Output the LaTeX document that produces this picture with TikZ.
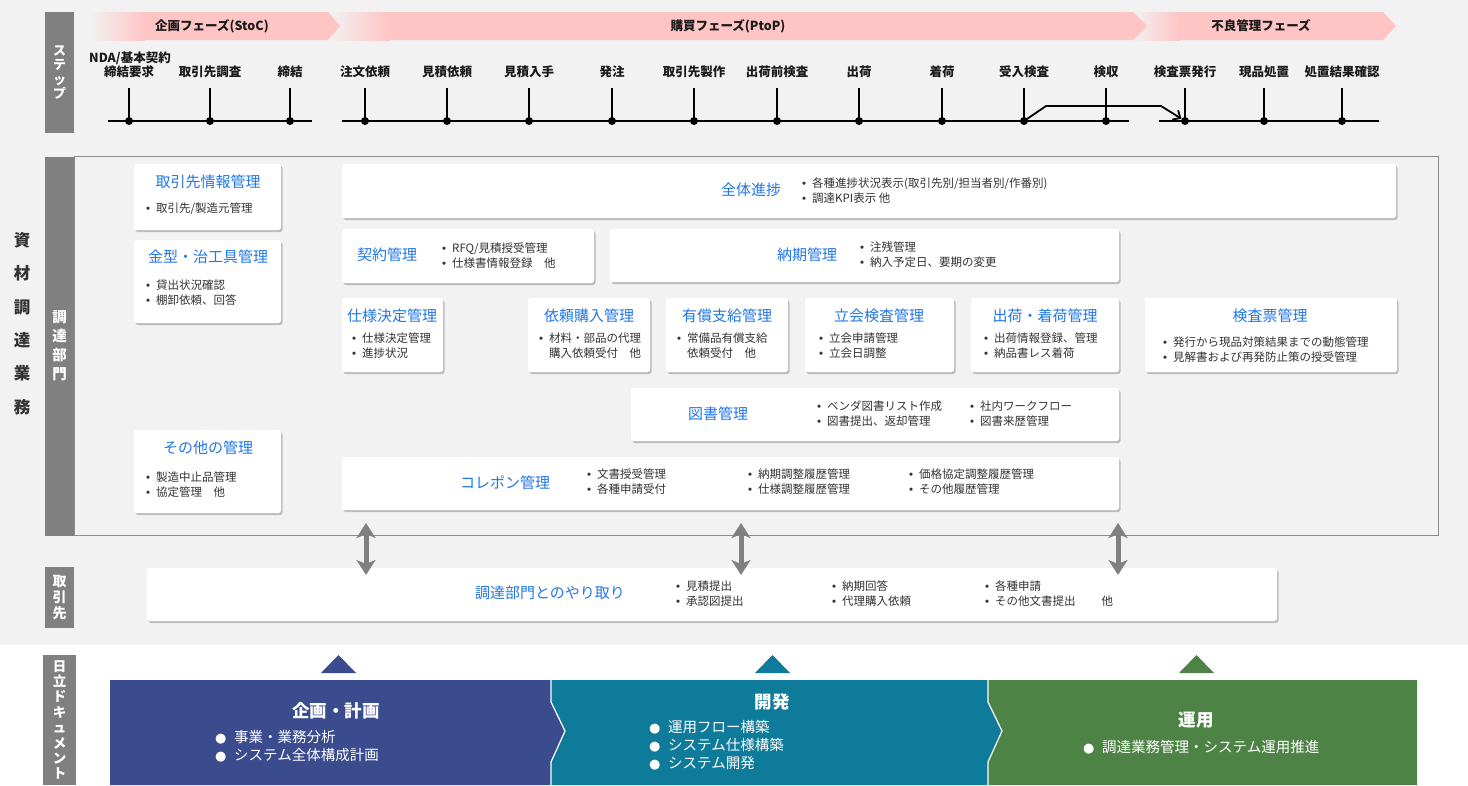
\documentclass[tikz,border=0pt]{standalone}
\usepackage{fontspec}
\setmainfont{Noto Sans CJK JP}
\newfontfamily\latinf{Liberation Sans}
\newfontfamily\djv{DejaVu Sans}
\usetikzlibrary{shadows,arrows.meta}
\definecolor{bgg}{HTML}{F2F2F2}
\definecolor{barg}{HTML}{808080}
\definecolor{framec}{HTML}{8C8C8C}
\definecolor{ttlc}{HTML}{2277E6}
\definecolor{txtc}{HTML}{333333}
\definecolor{stepc}{HTML}{1A1A1A}
\definecolor{pinkc}{HTML}{FFC4C4}
\definecolor{navyc}{HTML}{3A4B8E}
\definecolor{tealc}{HTML}{0F7B9A}
\definecolor{greenc}{HTML}{4E8346}
\newcommand\bl{\makebox[10pt][l]{{\latinf •}}}
\newcommand\nobl{\makebox[10pt][l]{}}
\newcommand\bbl{\makebox[19pt][l]{{\djv\fontsize{13}{12}\selectfont ●}}}
\newcommand\cardbox[5]{\node[card,minimum width={(#4-#2)*1pt},minimum height={(#5-#3)*1pt}] (#1) at ({(#2+#4)/2},{(#3+#5)/2}) {};}
\tikzset{
  card/.style={fill=white,rounded corners=2.5pt,inner sep=0pt,
    drop shadow={shadow xshift=1.5pt,shadow yshift=-2pt,fill=black,opacity=.22}},
  ttl/.style={font=\fontsize{15}{18}\selectfont,text=ttlc,inner sep=0pt},
  bul/.style={font=\fontsize{11.5}{15}\selectfont,text=txtc,align=left,inner sep=0pt,anchor=west},
  steplab/.style={font=\bfseries\fontsize{12.5}{14}\selectfont,text=stepc,inner sep=0pt},
  phase/.style={font=\bfseries\fontsize{12.5}{14}\selectfont,text=stepc,inner sep=0pt},
  dotn/.style={circle,fill=black,minimum size=8pt,inner sep=0pt},
  tickln/.style={line width=1.8pt},
  baseln/.style={line width=2.4pt},
  vbar/.style={fill=barg,text=white,align=center,inner sep=0pt},
  dblarrow/.style={line width=5pt,draw=barg,
    {Stealth[width=19pt,length=15pt,inset=4pt]}-{Stealth[width=19pt,length=15pt,inset=4pt]}},
  wtitle/.style={text=white,font=\bfseries\fontsize{17.5}{20}\selectfont,inner sep=0pt},
  wbul/.style={text=white,font=\fontsize{14.5}{18}\selectfont,align=left,inner sep=0pt,anchor=west},
}
\begin{document}
\begin{tikzpicture}[x=1pt,y=-1pt]
\useasboundingbox (0,0) rectangle (1468,785);
\fill[bgg] (0,0) rectangle (1468,645);
\fill[white] (0,645) rectangle (1468,785);

% phase bands
\shade[left color=bgg,right color=pinkc] (1133,12) rectangle (1180,40);
\fill[pinkc] (1179.5,12) -- (1383,12) -- (1396,26) -- (1383,40) -- (1179.5,40) -- cycle;
\shade[left color=bgg,right color=pinkc] (328,12) rectangle (390,40);
\fill[pinkc] (389.5,12) -- (1133,12) -- (1147,26) -- (1133,40) -- (389.5,40) -- cycle;
\shade[left color=bgg,right color=pinkc] (90,12) rectangle (145,40);
\fill[pinkc] (144.5,12) -- (328,12) -- (340,26) -- (328,40) -- (144.5,40) -- cycle;
\node[phase] (ph1) at (212,26) {企画フェーズ(StoC)};
\node[phase] (ph2) at (728,26) {購買フェーズ(PtoP)};
\node[phase] (ph3) at (1261,26) {不良管理フェーズ};

% left bars
\node[vbar,minimum width=29pt,minimum height=121pt,font=\bfseries\fontsize{13}{14.5}\selectfont] (vs) at (59.5,72.5) {ス\\テ\\ッ\\プ};
\draw[framec,line width=1pt] (74,156.5) rectangle (1438,535.5);
\node[vbar,minimum width=29pt,minimum height=379pt,font=\bfseries\fontsize{14.5}{19}\selectfont] (vc) at (59.5,346) {調\\達\\部\\門};
\node[vbar,minimum width=29pt,minimum height=61pt,font=\bfseries\fontsize{14}{16}\selectfont] (vt) at (59.5,597.5) {取\\引\\先};
\node[vbar,minimum width=33pt,minimum height=130pt,font=\bfseries\fontsize{13.5}{15.4}\selectfont] (vh) at (59.5,720) {日\\立\\ド\\キ\\ュ\\メ\\ン\\ト};
\node[text=txtc,align=center,inner sep=0pt,font=\bfseries\fontsize{16.5}{33.4}\selectfont] (vm) at (22,323.5) {資\\材\\調\\達\\業\\務};

% step row
\node[steplab] (nda) at (130,58) {NDA/基本契約};
\foreach \x/\t [count=\i] in {129/締結要求,210/取引先調査,290/締結,365/注文依頼,447/見積依頼,529/見積入手,612/発注,694/取引先製作,777/出荷前検査,859/出荷,942/着荷,1024/受入検査,1106/検収,1185/検査票発行,1264/現品処置,1342/処置結果確認}{
  \node[steplab] (lab\i) at (\x,72) {\t};
  \coordinate (tk\i) at (\x,88);
  \node[dotn] (dt\i) at (\x,121) {};
  \draw[tickln] (tk\i) -- (dt\i.center);
}
\coordinate (la1) at (108,121); \coordinate (lb1) at (312,121);
\coordinate (la2) at (342,121); \coordinate (lb2) at (1129,121);
\coordinate (la3) at (1159,121); \coordinate (lb3) at (1379,121);
\draw[baseln] (la1) -- (lb1);
\draw[baseln] (la2) -- (lb2);
\draw[baseln] (la3) -- (lb3);
\coordinate (ar1) at (1046,106); \coordinate (ar2) at (1161,106);
\draw[line width=1.8pt,-{Straight Barb[length=6pt,width=11pt]}] (dt12.center) -- (ar1) -- (ar2) -- (dt14);

% cards
\cardbox{c1}{134}{164}{281}{230}
\node[ttl] (c1t) at (208,182) {取引先情報管理};
\node[bul] (c1b) at (146,209) {\bl 取引先/製造元管理};

\cardbox{c2}{134}{240}{281}{323}
\node[ttl] (c2t) at (208,257) {金型・治工具管理};
\node[bul] (c2b) at (146,292.5) {\bl 貸出状況確認\\\bl 棚卸依頼、回答};

\cardbox{c3}{134}{430}{281}{513}
\node[ttl] (c3t) at (208,448) {その他の管理};
\node[bul] (c3b) at (146,484.5) {\bl 製造中止品管理\\\bl 協定管理　他};

\cardbox{c4}{342}{164}{1396}{218}
\node[ttl] (c4t) at (751,190) {全体進捗};
\node[bul] (c4b) at (802,191) {\bl 各種進捗状況表示(取引先別/担当者別/作番別)\\\bl 調達KPI表示 他};

\cardbox{c5}{342}{229}{594}{283}
\node[ttl] (c5t) at (387,255) {契約管理};
\node[bul] (c5b) at (442,256) {\bl RFQ/見積授受管理\\\bl 仕様書情報登録　他};

\cardbox{c6}{610}{229}{1119}{282}
\node[ttl] (c6t) at (807,255) {納期管理};
\node[bul] (c6b) at (860,255) {\bl 注残管理\\\bl 納入予定日、要期の変更};

\cardbox{c7}{342}{298}{443}{372}
\node[ttl] (c7t) at (392,316) {仕様決定管理};
\node[bul] (c7b) at (352,346) {\bl 仕様決定管理\\\bl 進捗状況};

\cardbox{c8}{528}{298}{650}{372}
\node[ttl] (c8t) at (589,316) {依頼購入管理};
\node[bul] (c8b) at (539,346) {\bl 材料・部品の代理\\\nobl 購入依頼受付　他};

\cardbox{c9}{666}{298}{788}{372}
\node[ttl] (c9t) at (727,316) {有償支給管理};
\node[bul] (c9b) at (677,346) {\bl 常備品有償支給\\\nobl 依頼受付　他};

\cardbox{c10}{805}{298}{954}{372}
\node[ttl] (c10t) at (879,316) {立会検査管理};
\node[bul] (c10b) at (819,346) {\bl 立会申請管理\\\bl 立会日調整};

\cardbox{c11}{971}{298}{1119}{372}
\node[ttl] (c11t) at (1045,316) {出荷・着荷管理};
\node[bul] (c11b) at (984,346) {\bl 出荷情報登録、管理\\\bl 納品書レス着荷};

\cardbox{c12}{1145}{298}{1397}{372}
\node[ttl] (c12t) at (1270,316) {検査票管理};
\node[bul] (c12b) at (1163,350) {\bl 発行から現品対策結果までの動態管理\\\bl 見解書および再発防止策の授受管理};

\cardbox{c13}{631}{388}{1119}{441}
\node[ttl] (c13t) at (718,414) {図書管理};
\node[bul] (c13b) at (817,413.5) {\bl ベンダ図書リスト作成\\\bl 図書提出、返却管理};
\node[bul] (c13c) at (970,413.5) {\bl 社内ワークフロー\\\bl 図書来歴管理};

\cardbox{c14}{342}{457}{1119}{510}
\node[ttl] (c14t) at (505,483) {コレポン管理};
\node[bul] (c14b) at (587,482) {\bl 文書授受管理\\\bl 各種申請受付};
\node[bul] (c14c) at (748,482) {\bl 納期調整履歴管理\\\bl 仕様調整履歴管理};
\node[bul] (c14d) at (909,482) {\bl 価格協定調整履歴管理\\\bl その他履歴管理};

\cardbox{c15}{147}{568}{1277}{621}
\node[ttl] (c15t) at (550,593) {調達部門とのやり取り};
\node[bul] (c15b) at (676,594) {\bl 見積提出\\\bl 承認図提出};
\node[bul] (c15c) at (832,594) {\bl 納期回答\\\bl 代理購入依頼};
\node[bul] (c15d) at (985,594) {\bl 各種申請\\\bl その他文書提出\hspace{26pt}他};

% double arrows
\coordinate (da1) at (366,523); \coordinate (db1) at (366,575);
\coordinate (da2) at (741,523); \coordinate (db2) at (741,575);
\coordinate (da3) at (1118,523); \coordinate (db3) at (1118,575);
\draw[dblarrow] (da1) -- (db1);
\draw[dblarrow] (da2) -- (db2);
\draw[dblarrow] (da3) -- (db3);

% bottom section
\fill[navyc] (321,673) -- (356,673) -- (338.5,655) -- cycle;
\fill[tealc] (755,673) -- (790,673) -- (772.5,655) -- cycle;
\fill[greenc] (1179,673) -- (1214,673) -- (1196.5,655) -- cycle;
\fill[navyc] (110,680) -- (551,680) -- (551,702) -- (565,731) -- (551,762) -- (551,785) -- (110,785) -- cycle;
\fill[tealc] (551,680) -- (988,680) -- (988,702) -- (1002,731) -- (988,762) -- (988,785) -- (551,785) -- (551,762) -- (565,731) -- (551,702) -- cycle;
\fill[greenc] (988,680) -- (1417,680) -- (1417,785) -- (988,785) -- (988,762) -- (1002,731) -- (988,702) -- cycle;
\draw[white,line width=1.2pt] (551,680) -- (551,702) -- (565,731) -- (551,762) -- (551,785);
\draw[white,line width=1.2pt] (988,680) -- (988,702) -- (1002,731) -- (988,762) -- (988,785);

\node[wtitle] (p1t) at (336,711) {企画・計画};
\node[wbul] (p1b) at (215,746) {\bbl 事業・業務分析\\\bbl システム全体構成計画};
\node[wtitle] (p2t) at (772,702) {開発};
\node[wbul] (p2b) at (649,745) {\bbl 運用フロー構築\\\bbl システム仕様構築\\\bbl システム開発};
\node[wtitle] (p3t) at (1196,720) {運用};
\node[wbul] (p3b) at (1083,747) {\bbl 調達業務管理・システム運用推進};
\end{tikzpicture}
\end{document}
